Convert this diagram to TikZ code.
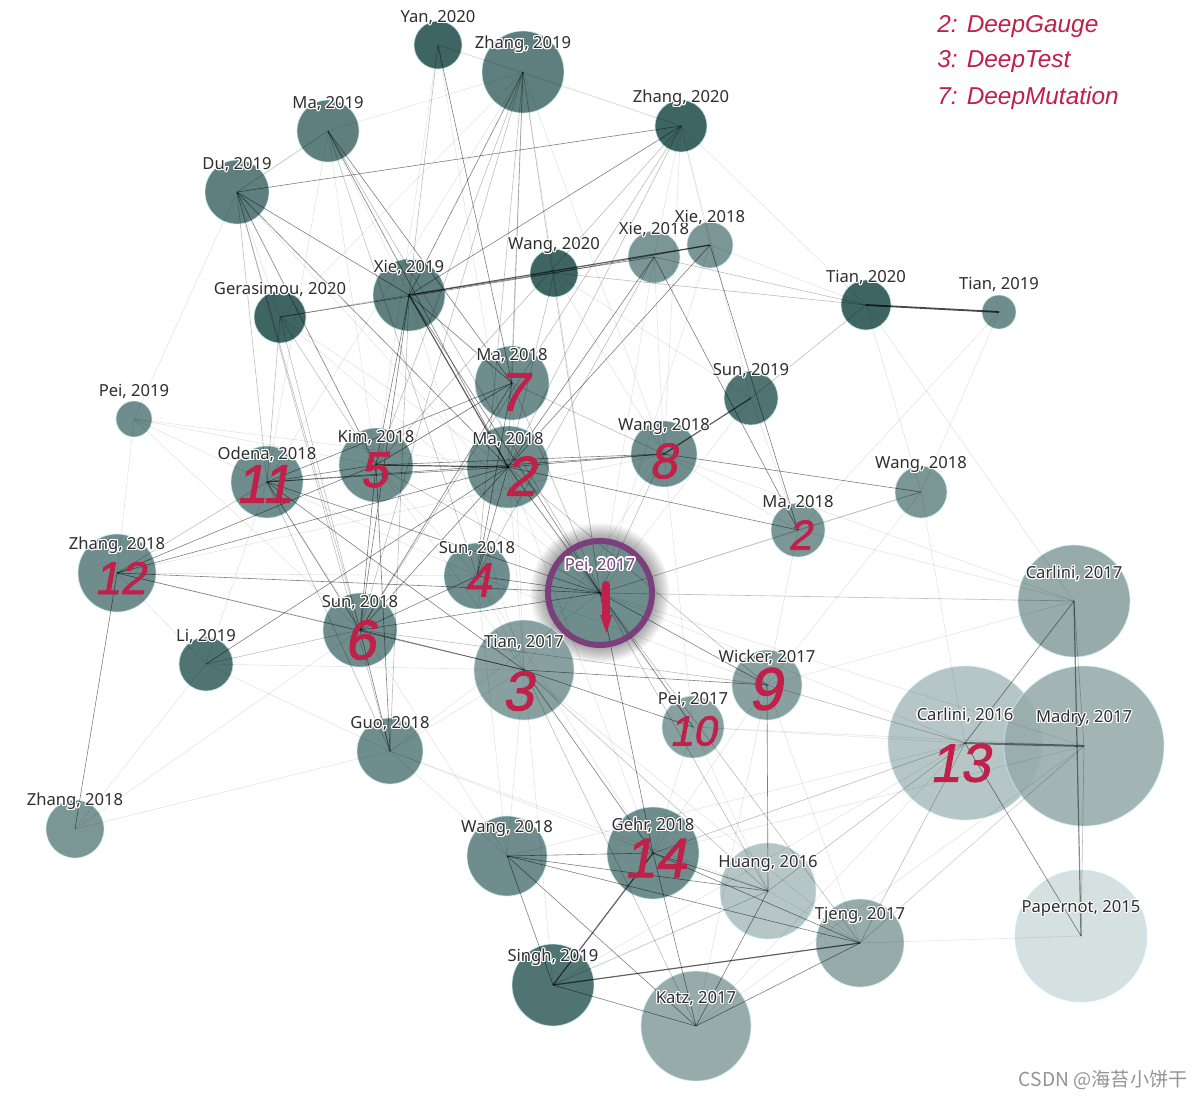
\documentclass[tikz,border=0pt]{standalone}
\usepackage{fontspec}
\setmainfont{Noto Sans}
\newfontfamily\hwfont{Liberation Sans}
\newfontfamily\hwmark{Liberation Sans}[FakeSlant=0.18, FakeBold=1.6]
\newfontfamily\cjkfont{Noto Sans CJK SC}
\usepackage{contour}
\contourlength{0.55pt}
\usetikzlibrary{calc}
\definecolor{cA}{HTML}{3F6563}
\definecolor{cB}{HTML}{4F7472}
\definecolor{cC}{HTML}{5E7F7D}
\definecolor{cD}{HTML}{6E8D8C}
\definecolor{cE}{HTML}{7A9695}
\definecolor{cF}{HTML}{88A1A0}
\definecolor{cG}{HTML}{96ABAA}
\definecolor{cH}{HTML}{B6C6C6}
\definecolor{cI}{HTML}{D5E0E0}
\definecolor{ringc}{HTML}{7B3F7C}
\definecolor{hwred}{HTML}{C0204A}
\tikzset{
  nd/.style={circle, inner sep=0pt, minimum size=#1pt, draw=white!80!cyan, draw opacity=0.7, line width=0.4pt},
  e0/.style={draw=black, draw opacity=0.62, line width=0.6pt},
  e1/.style={draw=black, draw opacity=0.5, line width=0.3pt},
  e2/.style={draw=black, draw opacity=0.26, line width=0.3pt},
  e3/.style={draw=black, draw opacity=0.10, line width=0.3pt},
  lbl/.style={font=\fontsize{8.3}{10}\selectfont, text=black!82, inner sep=0pt},
  hw/.style={font=\hwmark\fontsize{#1}{#1}\selectfont, text=hwred, inner sep=0pt},
  leg/.style={font=\hwfont\itshape\fontsize{12.2}{14}\selectfont, text=hwred, inner sep=0pt, anchor=west},
}
\begin{document}
\begin{tikzpicture}[x=0.5pt,y=-0.5pt]
\fill[white] (0,0) rectangle (1204,1098);
\useasboundingbox (0,0) rectangle (1204,1098);
% glow
\coordinate (p17) at (600,593);
\foreach \k in {0,...,15} \fill[black, opacity=0.022] (p17) circle [radius={(55+\k)*0.5pt}];
% nodes
\node[nd=24, fill=cA] (yan20) at (438,45) {};
\node[nd=41, fill=cC] (zh19) at (523,72) {};
\node[nd=31, fill=cC] (ma19) at (328,131) {};
\node[nd=26, fill=cA] (zh20) at (681,126) {};
\node[nd=32, fill=cC] (du19) at (237,192) {};
\node[nd=26, fill=cE] (xie18a) at (654,257) {};
\node[nd=23, fill=cE] (xie18b) at (710,245) {};
\node[nd=24, fill=cA] (wang20) at (554,273) {};
\node[nd=36, fill=cC] (xie19) at (409,295) {};
\node[nd=26, fill=cA] (ger20) at (280,317) {};
\node[nd=25, fill=cA] (tian20) at (866,305) {};
\node[nd=17, fill=cD] (tian19) at (999,312) {};
\node[nd=37, fill=cD] (ma18g) at (512,383) {};
\node[nd=18, fill=cD] (pei19) at (134,419) {};
\node[nd=27, fill=cB] (sun19) at (751,398) {};
\node[nd=37, fill=cD] (kim18) at (376,465) {};
\node[nd=41, fill=cD] (ma18) at (508,467) {};
\node[nd=33, fill=cD] (wang18e) at (664,454) {};
\node[nd=36, fill=cD] (odena18) at (267,482) {};
\node[nd=26, fill=cE] (wang18r) at (921,492) {};
\node[nd=27, fill=cE] (ma18r) at (798,530) {};
\node[nd=39, fill=cD] (zh18) at (117,573) {};
\node[nd=33, fill=cD] (sun18a) at (477,576) {};
\node[nd=52, fill=cD] (pei17) at (p17) {};
\node[nd=56, fill=cG] (car17) at (1074,601) {};
\node[nd=37, fill=cD] (sun18b) at (360,630) {};
\node[nd=27, fill=cB] (li19) at (206,664) {};
\node[nd=50, fill=cF] (tian17) at (524,670) {};
\node[nd=35, fill=cF] (wick17) at (767,685) {};
\node[nd=31, fill=cF] (pei17b) at (693,727) {};
\node[nd=77, fill=cH] (car16) at (965,743) {};
\node[nd=80, fill=cG, fill opacity=0.88] (madry17) at (1084,746) {};
\node[nd=33, fill=cD] (guo18) at (390,751) {};
\node[nd=29, fill=cE] (zh18b) at (75,829) {};
\node[nd=40, fill=cD] (wang18b) at (507,856) {};
\node[nd=46, fill=cD] (gehr18) at (653,853) {};
\node[nd=48, fill=cH] (huang16) at (768,891) {};
\node[nd=44, fill=cG] (tjeng17) at (860,943) {};
\node[nd=66, fill=cI] (pap15) at (1081,936) {};
\node[nd=41, fill=cB] (singh19) at (553,985) {};
\node[nd=55, fill=cG] (katz17) at (696,1026) {};
% light edges
\foreach \a/\b in {pei19/odena18, pei19/kim18, pei19/ma18, pei19/zh18, pei19/du19, pei19/sun18b, car17/tian20, tian19/wang18r, tian19/ma18r, wang18r/car16, pap15/tjeng17, madry17/tjeng17, car17/wang18e, car17/ma18r, zh19/zh20, yan20/zh19, yan20/zh20, ma19/zh19, ma19/xie19, zh19/wang20, zh20/xie18a, zh20/xie18b, zh20/sun19, zh20/tian20, xie18b/tian20, xie18a/wang18e, wang20/sun19, wang20/pei17, tian20/wang18r, sun19/pei17, sun19/ma18r, wang18e/ma18r, wang18r/pei17, li19/odena18, li19/guo18, li19/tian17, zh18b/guo18, zh18b/sun18b, guo18/wang18b, guo18/tian17, guo18/pei17, guo18/gehr18, guo18/huang16, tian17/wang18b, tian17/singh19, tian17/tjeng17, pei17b/gehr18, pei17b/huang16, pei17b/car16, wick17/tjeng17, wick17/gehr18, wick17/katz17, huang16/tjeng17, singh19/car16, katz17/car16, katz17/madry17, tjeng17/madry17, wang18b/car16, gehr18/madry17, pei17/madry17, pei17/car16, pei17b/madry17, sun18a/wick17, sun18a/tian17, kim18/tian17, ma18/tian17, ma18g/tian17, xie19/tian17, du19/pei17, ger20/pei17, zh18/sun18a, zh18/wang18e, zh18/sun18b, odena18/sun18a, kim18/sun18a, kim18/ma18g, wang18e/tian17, wang18e/pei17b, ma18/pei17b, ma18/gehr18, sun18a/gehr18, sun18a/wang18b, odena18/wang18b, ma19/kim18, ma19/odena18, du19/ger20, ger20/ma18, ger20/zh19, zh18/li19, zh18b/li19, xie18a/pei17, xie18b/pei17, wang18r/wick17, car17/wick17, ma18r/wick17, wang20/wang18e, yan20/kim18, yan20/ma18, zh19/odena18, zh19/wang18e, zh20/wang18e}
  \draw[e3] (\a.center) -- (\b.center);
% medium edges
\foreach \a/\b in {du19/ma19, du19/odena18, du19/sun18b, ma19/pei17, zh19/ma18g, zh19/kim18, zh19/sun18a, zh19/ma18, yan20/xie19, zh20/ma18, zh20/sun18b, zh20/kim18, wang20/tian20, xie18a/tian20, ger20/xie19, ger20/odena18, ger20/sun18b, ger20/kim18, pei17/car17, pei17/huang16, pei17/tjeng17, tian17/huang16, tian17/katz17, wick17/car16, gehr18/car16, huang16/car16, tjeng17/car16, singh19/huang16, ma18r/wang18r, zh18/odena18, odena18/guo18, tian20/sun19, li19/sun18b, pei17/ma18r, pei17/wang18e, car17/madry17, madry17/pap15, sun18b/wick17, ma18/wick17, wang20/ma18, zh19/sun18b, ma19/sun18a, du19/guo18, xie19/guo18, zh19/pei17, kim18/pei17, ma18g/pei17, ma18g/wang18e, xie18a/sun18a}
  \draw[e2] (\a.center) -- (\b.center);
% dark edges
\foreach \a/\b in {zh18/zh18b, xie19/xie18a, wang20/xie18b, du19/zh20, du19/xie19, zh20/xie19, ma19/ma18, ma19/ma18g, wang18e/wang18r, ma18/ma18r, xie18b/ma18r, xie18a/ma18r, xie18a/ma18, xie18b/sun18b, ma18/pei17, zh18/pei17, zh18/tian17, zh18/ma18, zh18/kim18, odena18/ma18, odena18/kim18, odena18/sun18b, odena18/pei17, odena18/wang18e, kim18/wang18e, kim18/sun18b, ma18/wang18e, ma18/sun18a, sun18b/tian17, sun18b/pei17, sun18b/sun18a, sun18b/ma18g, sun18b/guo18, li19/ma18, xie19/ma18g, xie19/kim18, xie19/sun18b, xie19/pei17, zh19/xie19, yan20/ma18g, tian17/wick17, tian17/pei17b, pei17/gehr18, pei17/wick17, pei17/pei17b, wick17/huang16, wang18b/gehr18, wang18b/huang16, wang18b/tjeng17, wang18b/singh19, wang18b/katz17, gehr18/katz17, gehr18/huang16, gehr18/tjeng17, singh19/katz17, katz17/huang16, katz17/tjeng17, car16/car17, car16/pap15, tian17/gehr18, ma18g/kim18, ma18g/odena18, du19/kim18, du19/ma18, guo18/kim18, sun18a/pei17, odena18/tian17, ger20/wang20, sun18a/ma18g}
  \draw[e1] (\a.center) -- (\b.center);
% heavy edges
\draw[e0, line width=0.9pt, draw opacity=0.72] (tian20.center) -- (tian19.center);
\draw[e0] (xie19.center) -- (xie18b.center);
\draw[e0, line width=1pt, draw opacity=0.45] (car16.center) -- (madry17.center);
\draw[e0] (gehr18.center) -- (singh19.center);
\draw[e0] (kim18.center) -- (ma18.center);
\draw[e0] (sun19.center) -- (wang18e.center);
\draw[e0] (singh19.center) -- (tjeng17.center);
\draw[e0, draw opacity=0.45] (car17.center) -- (pap15.center);
\draw[e0] (xie19.center) -- (ma18.center);
% ring of Pei 2017
\draw[ringc, line width=3pt] (pei17.center) circle [radius=26pt];
% labels
\foreach \n/\t in {yan20/{Yan, 2020}, zh19/{Zhang, 2019}, ma19/{Ma, 2019}, zh20/{Zhang, 2020}, du19/{Du, 2019}, xie18a/{Xie, 2018}, xie18b/{Xie, 2018}, wang20/{Wang, 2020}, xie19/{Xie, 2019}, ger20/{Gerasimou, 2020}, tian20/{Tian, 2020}, tian19/{Tian, 2019}, ma18g/{Ma, 2018}, pei19/{Pei, 2019}, sun19/{Sun, 2019}, kim18/{Kim, 2018}, ma18/{Ma, 2018}, wang18e/{Wang, 2018}, odena18/{Odena, 2018}, wang18r/{Wang, 2018}, ma18r/{Ma, 2018}, zh18/{Zhang, 2018}, sun18a/{Sun, 2018}, car17/{Carlini, 2017}, sun18b/{Sun, 2018}, li19/{Li, 2019}, tian17/{Tian, 2017}, wick17/{Wicker, 2017}, pei17b/{Pei, 2017}, car16/{Carlini, 2016}, madry17/{Madry, 2017}, guo18/{Guo, 2018}, zh18b/{Zhang, 2018}, wang18b/{Wang, 2018}, gehr18/{Gehr, 2018}, huang16/{Huang, 2016}, tjeng17/{Tjeng, 2017}, pap15/{Papernot, 2015}, singh19/{Singh, 2019}, katz17/{Katz, 2017}}
  \node[lbl] at ([yshift=13.5pt]\n.center) {\contour{white}{\t}};
\node[lbl, text=ringc, font=\bfseries\fontsize{8.3}{10}\selectfont] at ([yshift=13.5pt]pei17.center) {\contourlength{0.8pt}\contour{white}{Pei, 2017}};
% handwritten marks
\node[hw=27] at ([xshift=0.5pt,yshift=-4.5pt]ma18g.center) {7};
\node[hw=28] at ([xshift=6pt,yshift=-4.5pt]ma18.center) {2};
\node[hw=25] at ([xshift=-1pt,yshift=-2.5pt]kim18.center) {5};
\node[hw=27] at ([xshift=-1.5pt,yshift=-1pt]odena18.center) {11};
\node[hw=25] at ([xshift=-0.5pt,yshift=-3.5pt]wang18e.center) {8};
\node[hw=21] at ([xshift=1pt,yshift=-2.5pt]ma18r.center) {2};
\node[hw=23] at ([xshift=1.5pt,yshift=-2.5pt]zh18.center) {12};
\node[hw=24] at ([xshift=0.5pt,yshift=-2pt]sun18a.center) {4};
\node[hw=28] at ([yshift=-5pt]sun18b.center) {6};
\node[hw=28] at ([xshift=-3pt,yshift=-10.5pt]tian17.center) {3};
\node[hw=30] at ([xshift=-1pt,yshift=-2pt]wick17.center) {9};
\node[hw=21] at ([yshift=-2pt]pei17b.center) {10};
\node[hw=27] at ([xshift=-2.5pt,yshift=-10pt]car16.center) {13};
\node[hw=28] at ([xshift=1pt,yshift=-2.5pt]gehr18.center) {14};
\draw[hwred, line width=4pt, line cap=round] ([xshift=3pt,yshift=4pt]pei17.center) -- ([xshift=3pt,yshift=-13pt]pei17.center);
\fill[hwred] ([xshift=0pt,yshift=-11pt]pei17.center) -- ([xshift=6pt,yshift=-11pt]pei17.center) -- ([xshift=3.3pt,yshift=-20pt]pei17.center) -- cycle;
% legend
\node[leg] (lg1) at (937,27) {2: DeepGauge};
\node[leg] (lg2) at (937,62) {3: DeepTest};
\node[leg] (lg3) at (937,98) {7: DeepMutation};
% watermark
\node[anchor=east, inner sep=0pt, text=black!42, font=\cjkfont\fontsize{9.6}{11}\selectfont] (wm) at (1188,1080) {CSDN @海苔小饼干};
\end{tikzpicture}
\end{document}
